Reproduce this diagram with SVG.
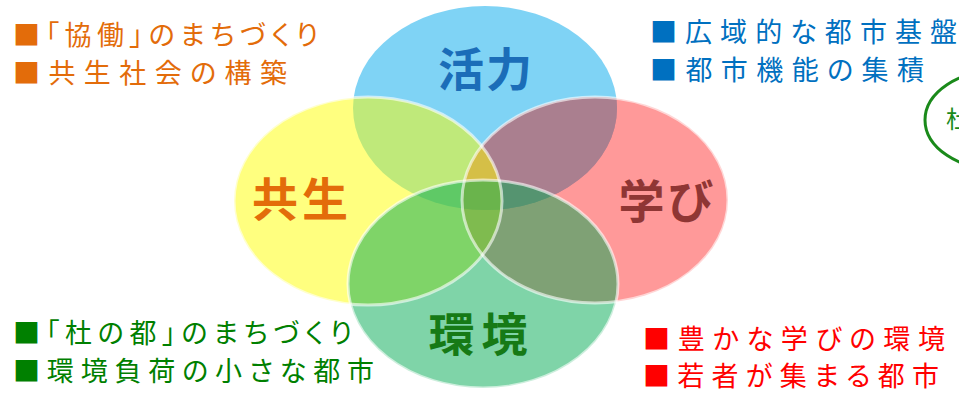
<svg xmlns="http://www.w3.org/2000/svg" width="959" height="394" viewBox="0 0 959 394">
<style>
.side{font-family:"Noto Sans CJK JP","Noto Sans",sans-serif;font-size:27px;font-feature-settings:"palt";}
.lab{font-family:"Noto Sans CJK JP","Noto Sans",sans-serif;font-size:46px;font-weight:bold;text-anchor:middle;}
.fill{opacity:0.5;}
.edge{fill:none;stroke:#ffffff;stroke-opacity:0.6;stroke-width:3;}
</style>
<defs>
<clipPath id="clipBlue"><ellipse cx="485" cy="108" rx="132" ry="102"/></clipPath>
</defs>
<rect width="959" height="394" fill="#ffffff"/>
<g id="venn-fills">
<ellipse id="fill-katsuryoku" class="fill" cx="485" cy="108" rx="132" ry="102" fill="#00a8ec"/>
<ellipse id="fill-manabi" class="fill" cx="595" cy="200" rx="133" ry="103" fill="#ff3333"/>
<ellipse id="fill-blue-red" cx="595" cy="200" rx="133" ry="103" fill="#aa7f8f" clip-path="url(#clipBlue)"/>
<ellipse id="fill-kyosei" class="fill" cx="368" cy="201" rx="134" ry="104" fill="#ffff00"/>
<ellipse id="fill-kankyo" class="fill" cx="483" cy="284" rx="135" ry="104" fill="#00a952"/>
</g>
<g id="venn-edges">
<ellipse class="edge" cx="368" cy="201" rx="134" ry="104"/>
<ellipse class="edge" cx="595" cy="200" rx="133" ry="103"/>
<ellipse class="edge" cx="483" cy="284" rx="135" ry="104"/>
</g>
<g id="node-katsuryoku"><text class="lab" x="485" y="86" fill="#1b6db8" textLength="94" lengthAdjust="spacing">活力</text></g>
<g id="node-kyosei"><text class="lab" x="300" y="216" fill="#e36c0a" textLength="96" lengthAdjust="spacing">共生</text></g>
<g id="node-manabi"><text class="lab" x="666" y="218" fill="#8f3634" textLength="95" lengthAdjust="spacing">学び</text></g>
<g id="node-kankyo"><text class="lab" x="478" y="351" fill="#167a16" textLength="99" lengthAdjust="spacing">環境</text></g>
<g id="list-kyosei" fill="#e36c0a">
<text class="side" x="13" y="45" textLength="305" lengthAdjust="spacing">■「協働」のまちづくり</text>
<text class="side" x="13" y="83" textLength="274" lengthAdjust="spacing">■共生社会の構築</text>
</g>
<g id="list-katsuryoku" fill="#0070c0">
<text class="side" x="650" y="42" textLength="307" lengthAdjust="spacing">■広域的な都市基盤</text>
<text class="side" x="650" y="80" textLength="274" lengthAdjust="spacing">■都市機能の集積</text>
</g>
<g id="list-kankyo" fill="#008000">
<text class="side" x="13" y="343" textLength="339" lengthAdjust="spacing">■「杜の都」のまちづくり</text>
<text class="side" x="13" y="381" textLength="361" lengthAdjust="spacing">■環境負荷の小さな都市</text>
</g>
<g id="list-manabi" fill="#ff0000">
<text class="side" x="643" y="349" textLength="302" lengthAdjust="spacing">■豊かな学びの環境</text>
<text class="side" x="643" y="386" textLength="296" lengthAdjust="spacing">■若者が集まる都市</text>
</g>
<g id="node-right-partial">
<ellipse cx="1000" cy="120" rx="75" ry="50" fill="none" stroke="#1a8a1a" stroke-width="3"/>
<text x="946" y="128" font-family="'Noto Sans CJK JP',sans-serif" font-size="24" fill="#1a8a1a">杜</text>
</g>
</svg>
